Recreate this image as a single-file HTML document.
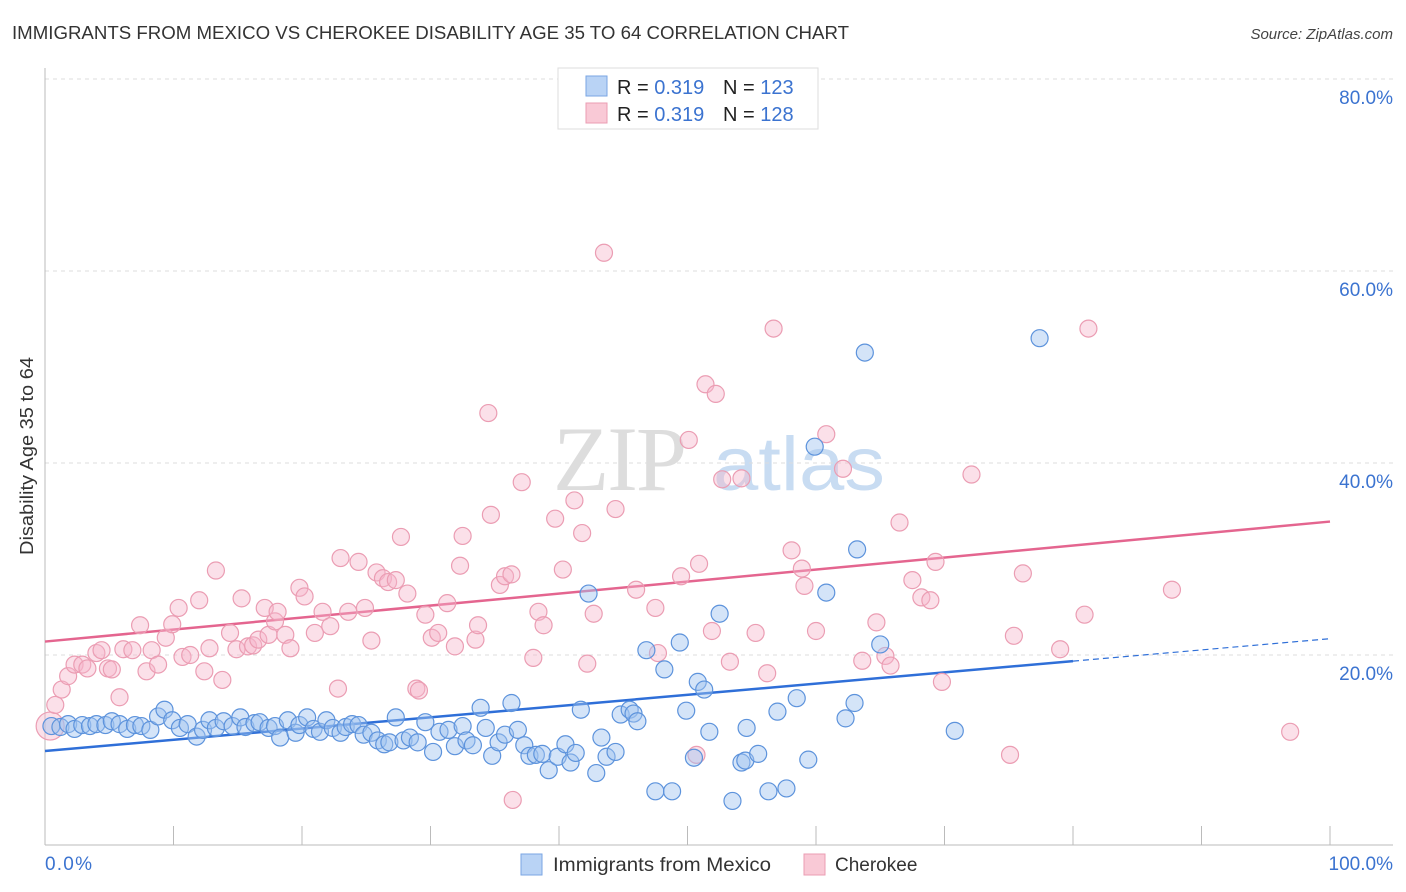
<!DOCTYPE html>
<html><head><meta charset="utf-8"><style>
body{margin:0;background:#fff;font-family:"Liberation Sans",Arial,sans-serif;}
svg{display:block}
</style></head><body>
<svg id="chart" width="1406" height="892" xmlns="http://www.w3.org/2000/svg">
<text x="12" y="39" font-size="18" fill="#333" textLength="837" lengthAdjust="spacingAndGlyphs">IMMIGRANTS FROM MEXICO VS CHEROKEE DISABILITY AGE 35 TO 64 CORRELATION CHART</text>
<text x="1393" y="39" font-size="15" fill="#444" text-anchor="end" font-style="italic">Source: ZipAtlas.com</text>
<g>
<text x="553" y="490" font-size="92" font-family="Liberation Serif,serif" fill="#ddd" letter-spacing="-2">ZIP</text>
<text x="713" y="490" font-size="76" fill="#c8dcf2" textLength="172" lengthAdjust="spacingAndGlyphs">atlas</text>
</g>
<g id="grid"></g>
<g id="axes"></g>
<g id="trends"></g>
<g id="points"></g>
<text transform="translate(33,456) rotate(-90)" font-size="18" fill="#333" text-anchor="middle" textLength="198" lengthAdjust="spacingAndGlyphs">Disability Age 35 to 64</text>
<g>
<rect x="558" y="68" width="260" height="61" fill="#fff" stroke="#ddd"/>
<rect x="586" y="76" width="21" height="20" fill="#b9d3f5" stroke="#7aa6e3"/>
<rect x="586" y="103" width="21" height="20" fill="#f9c9d6" stroke="#eb9db3"/>
<text x="617" y="94" font-size="20" fill="#222">R = <tspan fill="#3b73d0">0.319</tspan><tspan x="723">N = </tspan><tspan fill="#3b73d0">123</tspan></text>
<text x="617" y="121" font-size="20" fill="#222">R = <tspan fill="#3b73d0">0.319</tspan><tspan x="723">N = </tspan><tspan fill="#3b73d0">128</tspan></text>
</g>
<g>
<rect x="521" y="854" width="21" height="21" fill="#b9d3f5" stroke="#7aa6e3"/>
<text x="553" y="871" font-size="19.5" fill="#333" textLength="218" lengthAdjust="spacingAndGlyphs">Immigrants from Mexico</text>
<rect x="804" y="854" width="21" height="21" fill="#f9c9d6" stroke="#eb9db3"/>
<text x="835" y="871" font-size="19" fill="#333">Cherokee</text>
</g>
</svg>
<script>
const blueX=[0.5,1.2,1.8,2.3,2.9,3.5,4.0,4.7,5.2,5.8,6.4,7.0,7.5,8.2,8.8,9.3,9.9,10.5,11.1,11.8,12.3,12.8,13.3,13.9,14.6,15.2,15.6,16.3,16.7,17.4,17.9,18.3,18.9,19.5,19.8,20.4,20.9,21.4,21.9,22.4,23.0,23.4,23.9,24.4,24.8,25.4,25.9,26.4,26.8,27.3,27.9,28.4,29.0,29.6,30.2,30.7,31.4,31.9,32.5,32.8,33.3,33.9,34.3,34.8,35.3,35.8,36.3,36.8,37.3,37.7,38.2,38.7,39.2,39.9,40.5,40.9,41.3,41.7,42.3,42.9,43.3,43.7,44.4,44.8,45.5,45.8,46.1,47.5,46.8,48.2,48.8,49.4,49.9,50.5,50.8,51.3,51.7,52.5,53.5,54.2,54.5,54.6,55.5,56.3,57.0,57.7,58.5,59.4,59.9,60.8,62.3,63.0,63.2,63.8,65.0,70.8,77.4];
const blueY=[12.6,12.5,12.8,12.3,12.7,12.6,12.8,12.7,13.1,12.8,12.3,12.7,12.6,12.2,13.6,14.3,13.2,12.4,12.8,11.5,12.2,13.2,12.4,13.1,12.6,13.5,12.5,12.9,13.0,12.4,12.6,11.4,13.2,11.9,12.7,13.5,12.3,12.0,13.2,12.4,11.9,12.5,12.8,12.7,11.7,11.9,11.1,10.7,10.9,13.5,11.1,11.4,10.9,13.0,9.9,12.0,12.2,10.5,12.6,11.1,10.6,14.5,12.4,9.5,10.9,11.7,15.0,12.2,10.6,9.5,9.6,9.7,8.0,9.4,10.7,8.8,9.8,14.3,26.4,7.7,11.4,9.4,9.9,13.8,14.3,13.9,13.1,5.8,20.5,18.5,5.8,21.3,14.2,9.3,17.2,16.4,12.0,24.3,4.8,8.8,9.0,12.4,9.7,5.8,14.1,6.1,15.5,9.1,41.7,26.5,13.4,15.0,31.0,51.5,21.1,12.1,53.0];
const pinkX=[0.4,0.8,1.3,1.8,2.3,2.9,3.3,4.0,4.4,4.9,5.2,5.8,6.1,6.8,7.4,7.9,8.3,8.8,9.4,9.9,10.4,10.7,11.3,12.0,12.4,12.8,13.3,13.8,14.4,14.9,15.3,15.8,16.2,16.6,17.1,17.4,17.9,18.1,18.7,19.1,19.8,20.2,21.0,21.6,22.2,22.8,23.0,23.6,24.4,24.9,25.4,25.8,26.3,26.7,27.3,27.7,28.2,28.9,29.1,29.6,30.1,30.6,31.3,31.9,32.3,32.5,33.5,33.7,34.5,34.7,35.4,35.8,36.3,36.4,37.1,38.0,38.4,38.8,39.7,40.3,41.2,41.8,42.2,42.7,43.5,44.4,46.0,47.5,47.7,49.5,50.1,50.7,50.9,51.4,51.9,52.2,52.7,53.3,54.2,55.3,56.2,56.7,58.1,58.9,59.1,60.0,60.8,62.1,63.6,64.7,65.4,65.8,66.5,67.5,68.2,68.9,69.3,69.8,72.1,75.1,75.4,76.1,79.0,80.9,81.2,87.7,96.9];
const pinkY=[12.6,14.8,16.4,17.8,19.0,19.0,18.6,20.2,20.5,18.6,18.5,15.6,20.6,20.5,23.1,18.3,20.5,19.0,21.8,23.2,24.9,19.8,20.0,25.7,18.3,20.7,28.8,17.4,22.3,20.6,25.9,20.9,21.0,21.6,24.9,22.1,23.5,24.5,22.1,20.7,27.0,26.1,22.3,24.5,23.0,16.5,30.1,24.5,29.7,24.9,21.5,28.6,28.0,27.6,27.8,32.3,26.4,16.5,16.3,24.2,21.8,22.3,25.4,20.9,29.3,32.4,21.6,23.1,45.2,34.6,27.3,28.2,28.4,4.9,38.0,19.7,24.5,23.1,34.2,28.9,36.1,32.7,19.1,24.3,61.9,35.2,26.8,24.9,20.2,28.2,42.4,9.6,29.5,48.2,22.5,47.2,38.3,19.3,38.4,22.3,18.1,54.0,30.9,29.0,27.2,22.5,43.0,39.4,19.4,23.4,19.9,18.9,33.8,27.8,26.0,25.7,29.7,17.2,38.8,9.6,22.0,28.5,20.6,24.2,54.0,26.8,12.0];
const yTicks=[20,40,60,80];
const yTickLabels=["20.0%","40.0%","60.0%","80.0%"];
const xTicks=[0,10,20,30,40,50,60,70,80,90,100];
const blueTrend=[10.0,21.7], blueSolidEnd=80;
const pinkTrend=[21.4,33.9];

const NS="http://www.w3.org/2000/svg";
const sx=v=>45+v*12.85, sy=v=>847-v*9.6;
function mk(tag,attrs,parent){const e=document.createElementNS(NS,tag);for(const k in attrs)e.setAttribute(k,attrs[k]);parent.appendChild(e);return e;}
const grid=document.getElementById('grid'),axes=document.getElementById('axes'),tr=document.getElementById('trends'),pts=document.getElementById('points');
yTicks.forEach((t,i)=>{
 const l=mk('line',{x1:45,x2:1393,y1:sy(t),y2:sy(t),stroke:'#ddd','stroke-dasharray':'4,4'},grid);
 
 
 const tx=mk('text',{x:1393,y:sy(t)+25,'font-size':19,fill:'#3b73d0','text-anchor':'end'},grid);
 tx.textContent=yTickLabels[i];
 
 
});
const ax=mk('line',{x1:45,x2:45,y1:68,y2:845,stroke:'#bbb'},axes);


const bx=mk('line',{x1:45,x2:1393,y1:845,y2:845,stroke:'#bbb'},axes);


xTicks.forEach(t=>{
 const l=mk('line',{x1:sx(t),x2:sx(t),y1:826,y2:845,stroke:'#bbb'},axes);
 
 
});
const x0=mk('text',{x:45,y:870,'font-size':19,fill:'#3b73d0',textLength:47},axes);x0.textContent='0.0%';


const x1=mk('text',{x:1393,y:870,'font-size':19,fill:'#3b73d0','text-anchor':'end'},axes);x1.textContent='100.0%';



function drawPts(X,Y,fill,stroke,name){X.forEach((x,i)=>{
 const c=mk('circle',{cx:sx(x),cy:sy(Y[i]),r:(name==='cherokee-point'&&i===0)?14:8.5,fill:fill,stroke:stroke,'stroke-width':1.2},pts);
 
 
});}
drawPts(pinkX,pinkY,'rgba(246,182,202,0.42)','#eb9db3','cherokee-point');
drawPts(blueX,blueY,'rgba(160,196,240,0.45)','#5d93dc','mexico-point');

const bAt=v=>blueTrend[0]+(blueTrend[1]-blueTrend[0])*v/100;
const b1=mk('line',{x1:sx(0),y1:sy(bAt(0)),x2:sx(blueSolidEnd),y2:sy(bAt(blueSolidEnd)),stroke:'#2f6fd8','stroke-width':2.5},tr);


const b2=mk('line',{x1:sx(blueSolidEnd),y1:sy(bAt(blueSolidEnd)),x2:sx(100),y2:sy(bAt(100)),stroke:'#2f6fd8','stroke-width':1.2,'stroke-dasharray':'6,4'},tr);


const p1=mk('line',{x1:sx(0),y1:sy(pinkTrend[0]),x2:sx(100),y2:sy(pinkTrend[1]),stroke:'#e4658f','stroke-width':2.5},tr);


</script>
</body></html>
